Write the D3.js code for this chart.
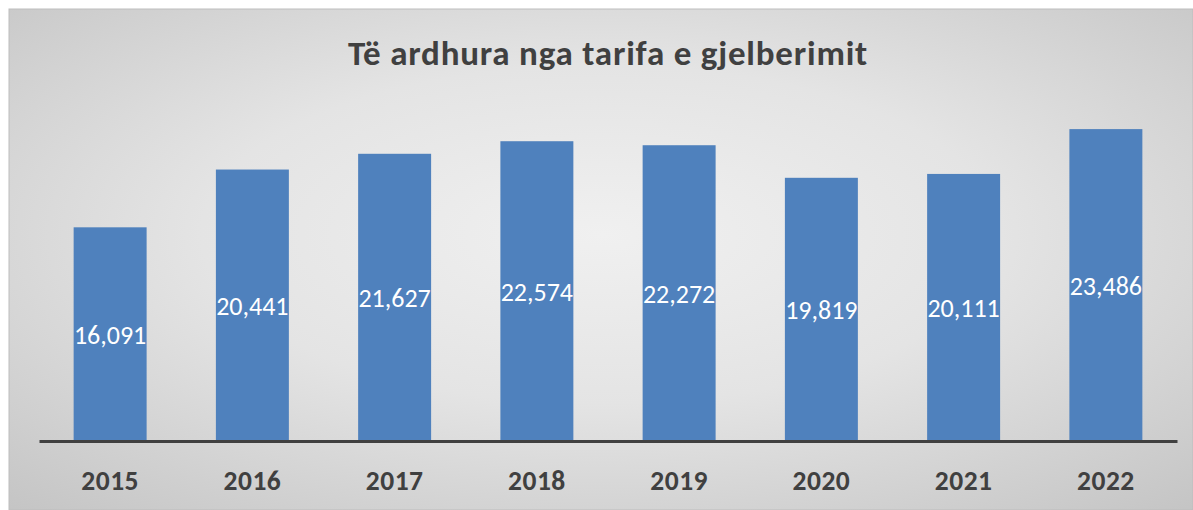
<!DOCTYPE html>
<html><head><meta charset="utf-8">
<script src="https://cdn.jsdelivr.net/npm/d3@7"></script>
<style>body{margin:0;background:#fff}svg{display:block}</style>
</head><body>
<svg id="c" width="1193" height="510"></svg>
<script>
const categories = ["2015","2016","2017","2018","2019","2020","2021","2022"];
const values = [16091,20441,21627,22574,22272,19819,20111,23486];
const title = "Të ardhura nga tarifa e gjelberimit";

const svg = d3.select("#c");
const defs = svg.append("defs");
const grad = defs.append("radialGradient").attr("id","bg")
  .attr("cx","50%").attr("cy","45%").attr("r","75%");
grad.append("stop").attr("offset","0%").attr("stop-color","#f0f0f0");
grad.append("stop").attr("offset","45%").attr("stop-color","#e4e4e4");
grad.append("stop").attr("offset","100%").attr("stop-color","#c4c4c4");

svg.append("rect").attr("x",9).attr("y",9).attr("width",1184).attr("height",501)
  .attr("fill","url(#bg)").attr("stroke","#bdbdbd").attr("stroke-width",1);

const font = "Carlito, Lato, 'Open Sans', sans-serif";
const x = d3.scaleBand().domain(categories).range([39,1177]).paddingInner(0.487).paddingOuter(0.2435);
const y = d3.scaleLinear().domain([0,25000]).range([441,109]);

svg.append("text").attr("x",608).attr("y",65).attr("text-anchor","middle")
  .attr("font-family",font).attr("font-weight","bold").attr("font-size",35)
  .attr("letter-spacing",0.8)
  .attr("fill","#404040").text(title);

svg.selectAll(".bar").data(values).join("rect")
  .attr("x",(d,i)=>x(categories[i])).attr("y",d=>y(d))
  .attr("width",x.bandwidth()).attr("height",d=>y(0)-y(d))
  .attr("fill","#4f81bd");

svg.selectAll(".lbl").data(values).join("text")
  .attr("x",(d,i)=>x(categories[i])+x.bandwidth()/2)
  .attr("y",d=>(y(d)+y(0))/2).attr("dy","0.38em")
  .attr("text-anchor","middle").attr("font-family",font).attr("font-size",26)
  .attr("fill","#ffffff").text(d=>d3.format(",")(d));

const ax = svg.append("g").attr("transform",`translate(0,${y(0)})`)
  .call(d3.axisBottom(x).tickSize(0).tickPadding(30));
ax.select(".domain").attr("stroke","#404040").attr("stroke-width",3);
ax.selectAll("text").attr("dy",null).attr("y",49)
  .attr("font-family",font).attr("font-weight","bold").attr("letter-spacing",0.5)
  .attr("font-size",27.5).attr("fill","#404040");
</script>
</body></html>
